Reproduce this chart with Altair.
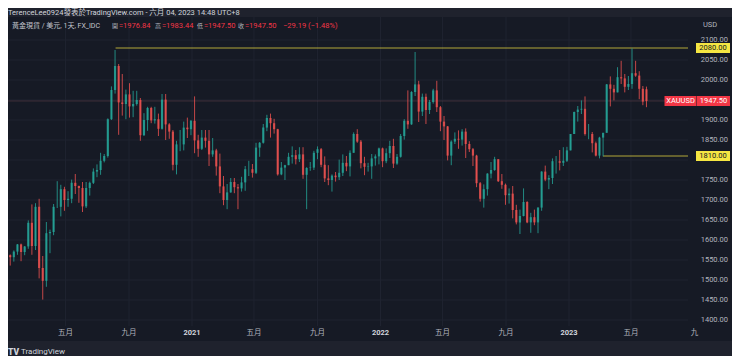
import altair as alt
import pandas as pd

# ---------------- data: weekly XAUUSD candles ----------------
week_start = "2020-01-13"
opens = [1562, 1557, 1571, 1589, 1570, 1584, 1643, 1585, 1683, 1530, 1498, 1617, 1620, 1683, 1683, 1727,
         1700, 1703, 1743, 1735, 1730, 1684, 1730, 1743, 1771, 1775, 1798, 1810, 1902, 1975, 2035, 1944,
         1940, 1964, 1934, 1940, 1950, 1862, 1900, 1930, 1899, 1902, 1878, 1951, 1889, 1871, 1788, 1839,
         1839, 1881, 1877, 1898, 1849, 1828, 1856, 1848, 1814, 1824, 1784, 1734, 1700, 1719, 1745, 1732,
         1729, 1744, 1777, 1777, 1768, 1831, 1843, 1881, 1905, 1892, 1877, 1764, 1781, 1787, 1808, 1812,
         1802, 1814, 1763, 1780, 1781, 1818, 1827, 1788, 1754, 1750, 1761, 1757, 1768, 1793, 1784, 1818,
         1865, 1846, 1792, 1783, 1784, 1804, 1809, 1829, 1797, 1817, 1835, 1791, 1808, 1860, 1898, 1889,
         1970, 1989, 1921, 1958, 1925, 1945, 1974, 1932, 1896, 1884, 1811, 1846, 1853, 1851, 1871, 1840,
         1827, 1811, 1742, 1703, 1727, 1766, 1775, 1802, 1747, 1738, 1712, 1716, 1675, 1644, 1660, 1695,
         1644, 1657, 1644, 1681, 1771, 1751, 1755, 1797, 1797, 1793, 1798, 1824, 1865, 1920, 1926, 1928,
         1865, 1865, 1842, 1811, 1856, 1868, 1989, 1978, 1969, 2007, 2004, 1983, 1990, 2017, 2011, 1978,
         1976.84]
highs = [1564, 1574, 1590, 1591, 1585, 1649, 1689, 1692, 1703, 1560, 1645, 1626, 1690, 1747, 1738, 1733,
         1722, 1751, 1765, 1736, 1745, 1745, 1746, 1779, 1789, 1818, 1815, 1904, 1984, 2075, 2040, 2015,
         1976, 1992, 1973, 1973, 1955, 1917, 1933, 1933, 1933, 1916, 1965, 1965, 1892, 1875, 1848, 1875,
         1896, 1906, 1900, 1959, 1863, 1875, 1875, 1875, 1855, 1828, 1816, 1760, 1740, 1755, 1755, 1740,
         1758, 1785, 1798, 1790, 1843, 1845, 1890, 1913, 1916, 1903, 1878, 1795, 1788, 1818, 1834, 1825,
         1832, 1832, 1782, 1795, 1823, 1834, 1830, 1809, 1787, 1764, 1770, 1801, 1814, 1810, 1824, 1869,
         1877, 1850, 1808, 1793, 1815, 1814, 1831, 1831, 1829, 1848, 1853, 1815, 1865, 1902, 1974, 1972,
         2070, 1998, 1966, 1966, 1950, 1978, 1998, 1935, 1910, 1885, 1849, 1869, 1874, 1877, 1879, 1847,
         1830, 1813, 1745, 1739, 1767, 1795, 1808, 1802, 1765, 1741, 1729, 1735, 1688, 1676, 1729, 1697,
         1668, 1676, 1682, 1772, 1786, 1762, 1804, 1810, 1825, 1832, 1833, 1865, 1921, 1935, 1949, 1959,
         1890, 1870, 1846, 1858, 1868, 1990, 2009, 1988, 2032, 2048, 2015, 2010, 2079, 2048, 2022, 1985,
         1983.44]
lows = [1536, 1546, 1563, 1547, 1562, 1578, 1563, 1575, 1504, 1451, 1483, 1567, 1612, 1680, 1659, 1673,
        1683, 1692, 1715, 1693, 1670, 1680, 1711, 1740, 1757, 1763, 1794, 1806, 1900, 1966, 1863, 1911,
        1902, 1906, 1907, 1936, 1848, 1860, 1873, 1892, 1891, 1860, 1876, 1850, 1853, 1774, 1764, 1822,
        1824, 1855, 1862, 1817, 1808, 1825, 1831, 1785, 1808, 1761, 1717, 1687, 1677, 1718, 1717, 1677,
        1721, 1723, 1760, 1756, 1765, 1808, 1841, 1872, 1856, 1866, 1761, 1762, 1750, 1787, 1791, 1789,
        1795, 1753, 1677, 1773, 1775, 1802, 1782, 1745, 1737, 1721, 1746, 1750, 1760, 1772, 1759, 1818,
        1843, 1779, 1762, 1771, 1753, 1786, 1789, 1782, 1792, 1805, 1780, 1788, 1806, 1851, 1878, 1888,
        1960, 1895, 1910, 1890, 1915, 1941, 1920, 1872, 1850, 1799, 1787, 1840, 1828, 1836, 1805, 1820,
        1785, 1732, 1696, 1681, 1711, 1754, 1773, 1745, 1728, 1688, 1691, 1654, 1639, 1615, 1659, 1642,
        1618, 1637, 1617, 1673, 1747, 1727, 1740, 1766, 1774, 1785, 1795, 1824, 1865, 1896, 1915, 1861,
        1852, 1819, 1809, 1804, 1809, 1868, 1934, 1949, 1969, 1990, 1969, 1975, 1978, 2008, 1952, 1937,
        1932]
closes = [1557, 1571, 1589, 1570, 1584, 1643, 1585, 1683, 1530, 1498, 1617, 1620, 1683, 1683, 1727, 1700,
          1703, 1743, 1735, 1730, 1684, 1730, 1743, 1771, 1775, 1798, 1810, 1902, 1975, 2035, 1944, 1940,
          1964, 1934, 1940, 1950, 1862, 1900, 1930, 1899, 1902, 1878, 1951, 1889, 1871, 1788, 1839, 1839,
          1881, 1877, 1898, 1849, 1828, 1856, 1848, 1814, 1824, 1784, 1734, 1700, 1719, 1745, 1732, 1729,
          1744, 1777, 1777, 1768, 1831, 1843, 1881, 1905, 1892, 1877, 1764, 1781, 1787, 1808, 1812, 1802,
          1814, 1763, 1780, 1781, 1818, 1827, 1788, 1754, 1750, 1761, 1757, 1768, 1793, 1784, 1818, 1865,
          1846, 1792, 1783, 1784, 1804, 1809, 1829, 1797, 1817, 1835, 1791, 1808, 1860, 1898, 1889, 1970,
          1989, 1921, 1958, 1925, 1945, 1974, 1932, 1896, 1884, 1811, 1846, 1853, 1851, 1871, 1840, 1827,
          1811, 1742, 1703, 1727, 1766, 1775, 1802, 1747, 1738, 1712, 1716, 1675, 1644, 1660, 1695, 1644,
          1657, 1644, 1681, 1771, 1751, 1755, 1797, 1797, 1793, 1798, 1824, 1865, 1920, 1926, 1928, 1865,
          1865, 1842, 1811, 1856, 1868, 1989, 1978, 1969, 2007, 2004, 1983, 1990, 2017, 2011, 1978, 1946,
          1947.50]

price_ticks = [1400, 1450, 1500, 1550, 1600, 1650, 1700, 1750, 1800, 1850, 1900, 1950, 2000, 2050, 2100]
tick_labels = ["1400.00", "1450.00", "1500.00", "1550.00", "1600.00", "1650.00", "1700.00", "1750.00",
               "1800.00", "1850.00", "1900.00", "1950.00", "2000.00", "2050.00", "2100.00"]
time_dates = ["2020-05-01", "2020-09-01", "2021-01-01", "2021-05-01", "2021-09-01", "2022-01-01",
              "2022-05-01", "2022-09-01", "2023-01-01", "2023-05-01", "2023-09-01"]
time_labels = ["五月", "九月", "2021", "五月", "九月", "2022", "五月", "九月", "2023", "五月", "九"]
time_is_year = [False, False, True, False, False, True, False, False, True, False, False]
level_starts = ["2020-08-06", "2023-03-08"]
level_prices = [2080.00, 1810.00]
level_texts = ["2080.00", "1810.00"]
last_price = 1947.50
last_text = "1947.50"
symbol = "XAUUSD"

# ---------------- styles ----------------
FONT = "Roboto, 'Noto Sans CJK TC', 'Noto Sans', sans-serif"
OUTER = "#1f222d"
PANEL = "#161a25"
GRID = "#1f2330"
TEXT = "#b2b5be"
UP = "#26a69a"
DOWN = "#ef5350"
YELLOW = "#f5e642"
RED = "#f23645"

W, H = 724, 348
PLOT_RIGHT = 680

xscale = alt.Scale(domain=[alt.DateTime(year=2021, month=1, date=1),
                           alt.DateTime(year=2023, month=1, date=1)],
                   range=[184, 561], nice=False, padding=0)
yscale = alt.Scale(domain=[1400, 2100], range=[312, 32], zero=False, nice=False, padding=0)

iso = lambda s: s + "T00:00:00"

dates = pd.date_range(week_start, periods=len(closes), freq="7D") + pd.Timedelta(days=2)
candles = pd.DataFrame({"date": dates, "open": opens, "high": highs, "low": lows, "close": closes})
ticks_df = pd.DataFrame({"p": price_ticks, "t": tick_labels})
# axis labels that sit under a price box are hidden, as on the price scale of the original
box_prices = level_prices + [last_price]
label_df = ticks_df[[min(abs(p - b) for b in box_prices) > 12 for p in price_ticks]]
time_df = pd.DataFrame({"d": [iso(s) for s in time_dates], "t": time_labels, "yr": time_is_year})
levels_df = pd.DataFrame({"start": [iso(s) for s in level_starts], "p": level_prices, "t": level_texts})
last_df = pd.DataFrame({"p": [last_price], "t": [last_text], "s": [symbol]})
one = alt.Data(values=[{"a": 1}])

X = lambda f: alt.X(f, scale=xscale, axis=None)
Y = lambda f: alt.Y(f, scale=yscale, axis=None)


def label(text, x, y, color=TEXT, size=7.5, weight="normal", align="left"):
    return alt.Chart(one).mark_text(text=text, align=align, baseline="middle", fontSize=size,
                                    fontWeight=weight, color=color, font=FONT).encode(
        x=alt.value(x), y=alt.value(y))


panel = alt.Chart(one).mark_rect(color=PANEL).encode(
    x=alt.value(-1), x2=alt.value(725), y=alt.value(9), y2=alt.value(333))

hgrid = alt.Chart(ticks_df).mark_rule(color=GRID, strokeWidth=1).encode(
    y=Y("p:Q"), x=alt.value(-1), x2=alt.value(PLOT_RIGHT))
vgrid = alt.Chart(time_df[time_df.t != "九"]).mark_rule(color=GRID, strokeWidth=1).encode(
    x=X("d:T"), y=alt.value(9), y2=alt.value(318))

price_line = alt.Chart(last_df).mark_rule(color="#c9707a", opacity=0.22, strokeWidth=1).encode(
    y=Y("p:Q"), x=alt.value(-1), x2=alt.value(PLOT_RIGHT))

level_lines = alt.Chart(levels_df).mark_rule(color=YELLOW, opacity=0.7, strokeWidth=1).encode(
    x=X("start:T"), x2=alt.value(PLOT_RIGHT), y=Y("p:Q"))

candle_color = alt.condition("datum.close >= datum.open", alt.value(UP), alt.value(DOWN))
wicks = alt.Chart(candles).mark_rule(strokeWidth=1, opacity=0.8).encode(
    x=X("date:T"), y=Y("low:Q"), y2="high:Q", color=candle_color)
bodies = alt.Chart(candles).mark_bar(size=2.2, opacity=0.8).encode(
    x=X("date:T"), y=Y("open:Q"), y2="close:Q", color=candle_color)

axis_labels = alt.Chart(label_df).mark_text(align="right", baseline="middle", fontSize=7.5,
                                             color=TEXT, font=FONT).encode(
    x=alt.value(720), y=Y("p:Q"), text="t:N")

level_boxes = alt.Chart(levels_df).mark_tick(orient="horizontal", size=34, thickness=10,
                                             color=YELLOW, opacity=1).encode(
    x=alt.value(705), y=Y("p:Q"))
level_box_text = alt.Chart(levels_df).mark_text(align="center", baseline="middle", fontSize=7.5,
                                                color="#131722", font=FONT).encode(
    x=alt.value(705), y=Y("p:Q"), text="t:N")

sym_box = alt.Chart(last_df).mark_tick(orient="horizontal", size=32, thickness=10, color=RED,
                                       opacity=1).encode(x=alt.value(672.5), y=Y("p:Q"))
price_box = alt.Chart(last_df).mark_tick(orient="horizontal", size=33, thickness=10, color=RED,
                                         opacity=1).encode(x=alt.value(705.5), y=Y("p:Q"))
sym_text = alt.Chart(last_df).mark_text(align="center", baseline="middle", fontSize=7.5,
                                        color="#ffffff", font=FONT).encode(
    x=alt.value(672.5), y=Y("p:Q"), text="s:N")
price_text = alt.Chart(last_df).mark_text(align="center", baseline="middle", fontSize=7.5,
                                          color="#ffffff", font=FONT).encode(
    x=alt.value(705.5), y=Y("p:Q"), text="t:N")

month_text = alt.Chart(time_df[~time_df.yr]).mark_text(align="center", baseline="middle",
                                                       fontSize=7.5, color=TEXT, font=FONT).encode(
    x=X("d:T"), y=alt.value(325), text="t:N")
year_text = alt.Chart(time_df[time_df.yr]).mark_text(align="center", baseline="middle",
                                                     fontSize=7.5, fontWeight="bold",
                                                     color="#d1d4dc", font=FONT).encode(
    x=X("d:T"), y=alt.value(325), text="t:N")

texts = [
    label("TerenceLee0924發表於TradingView.com - 六月 04, 2023 14:48 UTC+8", 0, 4.5, color="#d1d4dc"),
    label("黃金現貨 / 美元, 1天, FX_IDC", 4, 18, color="#c4c7cf", size=7),
    label("開", 104, 18, size=6), label("=1976.84", 111, 18, color=RED),
    label("高", 147, 18, size=6), label("=1983.44", 154, 18, color=RED),
    label("低", 189, 18, size=6), label("=1947.50", 196, 18, color=RED),
    label("收", 230, 18, size=6), label("=1947.50", 237, 18, color=RED),
    label("−29.19 (−1.48%)", 275, 18, color=RED),
    label("USD", 702, 17, align="center"),
    label("TV", 0, 344, color="#d1d4dc", size=8.5, weight=900),
    label("TradingView", 13, 344, color="#d1d4dc", size=8),
]

chart = alt.layer(
    panel, hgrid, vgrid, price_line, level_lines, wicks, bodies,
    axis_labels, level_boxes, level_box_text, sym_box, price_box, sym_text, price_text,
    month_text, year_text, *texts,
).properties(
    width=W, height=H, autosize=alt.AutoSizeParams(type="none"), padding=0
).configure(background=OUTER).configure_view(strokeWidth=0)

chart.save("out.html", embed_options={"renderer": "svg", "actions": False})
